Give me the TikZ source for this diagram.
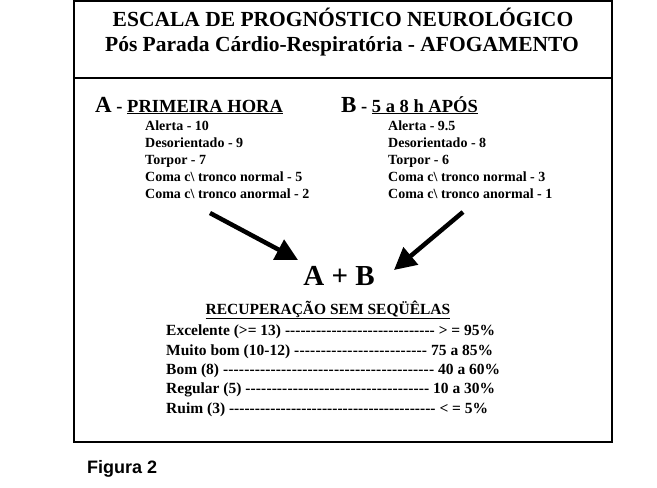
\documentclass[tikz,border=0pt]{standalone}
\usepackage{fontspec}
\setmainfont{Liberation Serif}
\newfontfamily\figfont{Liberation Sans}
\usetikzlibrary{arrows.meta}

\begin{document}
\begin{tikzpicture}[x=1pt,y=-1pt,
    titletext/.style={anchor=base, inner sep=0pt, font=\bfseries\fontsize{21.5}{23}\selectfont},
    headtext/.style={anchor=base west, inner sep=0pt, font=\bfseries\fontsize{18.5}{20}\selectfont},
    itemtext/.style={anchor=base west, inner sep=0pt, font=\bfseries\fontsize{14}{16}\selectfont},
    rectext/.style={anchor=base west, inner sep=0pt, font=\bfseries\fontsize{15.5}{17}\selectfont},
    bigarrow/.style={line width=4.5pt, -{Triangle[length=22pt,width=22pt]}}]
    \useasboundingbox (0,0) rectangle (657,488);

    % moldura
    \draw [line width=1.3pt] (74,1) rectangle (612,442);
    \draw [line width=1.3pt] (74,78) -- (612,78);

    \node [titletext] (titulo1) at (343,26) {ESCALA DE PROGNÓSTICO NEUROLÓGICO};
    \node [titletext] (titulo2) at (342,51) {Pós Parada Cárdio-Respiratória - AFOGAMENTO};

    % A - primeira hora
    \node [headtext] (horaA) at (95,112) {{\fontsize{23}{24}\selectfont A} - \underline{PRIMEIRA HORA}};
    \node [itemtext] (a1) at (145,130) {Alerta - 10};
    \node [itemtext] (a2) at (145,147) {Desorientado - 9};
    \node [itemtext] (a3) at (145,164) {Torpor - 7};
    \node [itemtext] (a4) at (145,181) {Coma c\textbackslash{} tronco normal - 5};
    \node [itemtext] (a5) at (145,198) {Coma c\textbackslash{} tronco anormal - 2};

    % B - 5 a 8 h
    \node [headtext] (horaB) at (341,112) {{\fontsize{23}{24}\selectfont B} - \underline{5 a 8 h APÓS}};
    \node [itemtext] (b1) at (388,130) {Alerta - 9.5};
    \node [itemtext] (b2) at (388,147) {Desorientado - 8};
    \node [itemtext] (b3) at (388,164) {Torpor - 6};
    \node [itemtext] (b4) at (388,181) {Coma c\textbackslash{} tronco normal - 3};
    \node [itemtext] (b5) at (388,198) {Coma c\textbackslash{} tronco anormal - 1};

    % soma
    \node [anchor=base, inner sep=0pt, font=\bfseries\fontsize{29}{31}\selectfont] (soma) at (339,285) {A + B};
    \coordinate (caudaA) at (210,213);
    \coordinate (pontaA) at (298,260);
    \coordinate (caudaB) at (463,212);
    \coordinate (pontaB) at (394,270);
    \draw [bigarrow] (caudaA) -- (pontaA);
    \draw [bigarrow] (caudaB) -- (pontaB);

    % recuperacao
    \node [rectext, anchor=base] (recup) at (328,314) {\underline{RECUPERAÇÃO SEM SEQÜÊLAS}};
    \node [rectext] (r1) at (166,335) {\hbox to 329pt{Excelente (>= 13) \xleaders\hbox{-}\hfill\ > = 95\%}};
    \node [rectext] (r2) at (166,355) {\hbox to 327pt{Muito bom (10-12) \xleaders\hbox{-}\hfill\ 75 a 85\%}};
    \node [rectext] (r3) at (166,374) {\hbox to 334pt{Bom (8) \xleaders\hbox{-}\hfill\ 40 a 60\%}};
    \node [rectext] (r4) at (166,393) {\hbox to 329pt{Regular (5) \xleaders\hbox{-}\hfill\ 10 a 30\%}};
    \node [rectext] (r5) at (166,413) {\hbox to 322pt{Ruim (3) \xleaders\hbox{-}\hfill\ < = 5\%}};

    \node [anchor=base west, inner sep=0pt, font=\figfont\bfseries\fontsize{18}{20}\selectfont] (figura) at (87,473) {Figura 2};
\end{tikzpicture}
\end{document}
